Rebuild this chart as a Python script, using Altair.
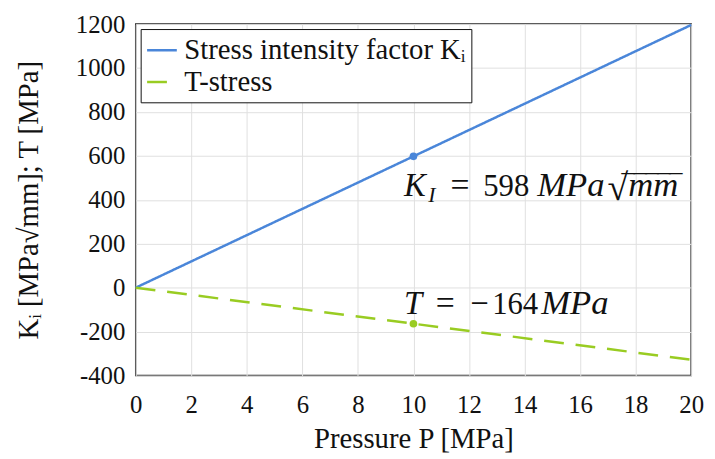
import altair as alt
import pandas as pd

pressure = [0, 10, 20]
k_values = [0, 598, 1196]
t_values = [0, -164, -328]
series_names = ["Stress intensity factor Kᵢ", "T-stress"]
colors = ["#4a86d9", "#99cc22"]
x_ticks = list(range(0, 21, 2))
y_ticks = list(range(-400, 1201, 200))
marked_p = 10

rows = []
for p, k, t in zip(pressure, k_values, t_values):
    rows.append({"P": p, "v": k, "s": series_names[0]})
    rows.append({"P": p, "v": t, "s": series_names[1]})
df = pd.DataFrame(rows)
pts = df[df["P"] == marked_p]

k_at = k_values[pressure.index(marked_p)]
t_at = t_values[pressure.index(marked_p)]
anchor_k = pd.DataFrame({"P": [marked_p], "v": [k_at]})
anchor_t = pd.DataFrame({"P": [marked_p], "v": [t_at]})

FONT = "Liberation Serif"
INK = "#111111"

xs = alt.X("P:Q", scale=alt.Scale(domain=[0, 20], nice=False),
           axis=alt.Axis(values=x_ticks, title="Pressure P [MPa]", grid=True,
                         ticks=False, labelPadding=17, titlePadding=8, domain=False,
                         labelFont=FONT, titleFont=FONT, labelFontSize=25, titleFontSize=29,
                         labelFlush=False))
ys = alt.Y("v:Q", scale=alt.Scale(domain=[-400, 1200], nice=False),
           axis=alt.Axis(values=y_ticks, title="Kᵢ [MPa√mm]; T [MPa]", grid=True,
                         ticks=False, labelPadding=11, titlePadding=32, domain=False,
                         labelExpr="'' + datum.value",
                         labelFont=FONT, titleFont=FONT, labelFontSize=25, titleFontSize=29,
                         labelFlush=False))

color = alt.Color("s:N", scale=alt.Scale(domain=series_names, range=colors),
                  legend=alt.Legend(title=None, orient="top-left", offset=5))
dash = alt.StrokeDash("s:N", scale=alt.Scale(domain=series_names, range=[[1, 0], [20, 12]]),
                      legend=alt.Legend(title=None, orient="top-left", offset=5))

lines = alt.Chart(df).mark_line(strokeWidth=2.5).encode(x=xs, y=ys, color=color, strokeDash=dash)
dots = alt.Chart(pts).mark_circle(size=60, opacity=1).encode(
    x="P:Q", y="v:Q",
    color=alt.Color("s:N", legend=None, scale=alt.Scale(domain=series_names, range=colors)))


def piece(src, text, dx, dy, size=32, italic=False):
    return alt.Chart(src).mark_text(
        text=text, align="left", baseline="alphabetic", font=FONT, fontSize=size,
        fontStyle="italic" if italic else "normal", color=INK, dx=dx, dy=dy,
    ).encode(x="P:Q", y="v:Q")


k_pieces = [
    piece(anchor_k, "K", -9.5, 40, size=33, italic=True),
    piece(anchor_k, "I", 15, 46, size=22, italic=True),
    piece(anchor_k, "=", 37.5, 40, size=34),
    piece(anchor_k, str(k_at), 70.5, 40, size=31),
    piece(anchor_k, "MPa", 125, 40, size=35, italic=True),
    piece(anchor_k, "√", 196, 44, size=38),
    piece(anchor_k, "‾‾‾‾‾", 211, 45, size=36),
    piece(anchor_k, "mm", 217, 40, size=35, italic=True),
]
t_pieces = [
    piece(anchor_t, "T", -9.5, -9.6, size=33, italic=True),
    piece(anchor_t, "=", 22.5, -9.6, size=34),
    piece(anchor_t, "−", 57.5, -9.6, size=33),
    piece(anchor_t, str(abs(t_at)), 79.5, -9.6, size=31),
    piece(anchor_t, "MPa", 129, -9.6, size=35, italic=True),
]

chart = alt.layer(lines, dots, *k_pieces, *t_pieces).properties(
    width=561, height=355,
    autosize=alt.AutoSizeParams(type="none"),
    padding={"left": 129, "top": 14, "right": 16, "bottom": 80},
).configure_view(stroke="#262626", strokeWidth=1.5).configure_axis(
    labelColor=INK, titleColor=INK, titleFontWeight="normal",
    gridColor="#e0e0e0", gridWidth=1,
).configure_legend(
    labelFont=FONT, labelFontSize=29, labelColor=INK, strokeColor=INK,
    fillColor="white", padding=5, symbolType="stroke", symbolStrokeWidth=2.5,
    symbolSize=900, rowPadding=0, labelOffset=6, labelLimit=500, cornerRadius=0,
)

chart.save("out.html", embed_options={"renderer": "svg", "actions": False})
